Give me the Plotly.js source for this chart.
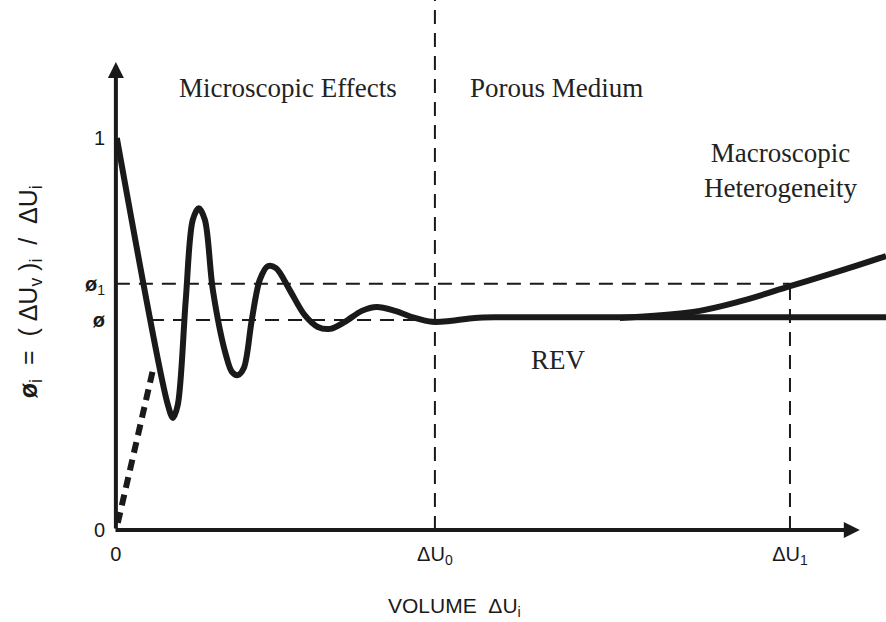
<!DOCTYPE html>
<html>
<head>
<meta charset="utf-8">
<script src="https://cdn.plot.ly/plotly-3.0.1.min.js"></script>
<style>
  html, body { margin: 0; padding: 0; background: #fff; }
  #chart { width: 886px; height: 622px; }
</style>
</head>
<body>
<div id="chart"></div>
<script>
// Volume axis: ΔU0 sits at 1, ΔU1 further right
const DU0 = 1.0;
const DU1 = 2.113;
// Porosity levels on the vertical axis
const PHI = 0.536;
const PHI1 = 0.628;

// Measured porosity vs averaging volume: damped oscillation settling on PHI
const curveX = [0.003, 0.163, 0.179, 0.194, 0.219, 0.241, 0.260, 0.279, 0.304, 0.345, 0.364, 0.382,
                0.401, 0.426, 0.451, 0.476, 0.502, 0.545, 0.592, 0.633, 0.671, 0.718, 0.771, 0.818,
                0.875, 0.937, 0.991, 1.047, 1.125, 1.204, 2.414];
const curveY = [1.000, 0.319, 0.286, 0.319, 0.587, 0.791, 0.821, 0.791, 0.612, 0.446, 0.403, 0.395,
                0.413, 0.536, 0.638, 0.673, 0.668, 0.612, 0.548, 0.518, 0.513, 0.531, 0.559, 0.569,
                0.559, 0.541, 0.531, 0.533, 0.541, 0.543, 0.543];

// Heterogeneous medium: porosity drifts upward beyond the REV range
const hetX = [1.580, 1.809, 1.956, 2.113, 2.270, 2.414];
const hetY = [0.541, 0.556, 0.583, 0.622, 0.661, 0.699];

// Extrapolated branch toward the origin
const nearX = [0.006, 0.116];
const nearY = [0.018, 0.408];

// Tick labels
const yTickVals = [0, PHI, PHI1, 1];
const yTickText = ['0', '<b>ø</b>', '<b>ø</b><sub>1</sub>', '1'];
const xTickVals = [0, DU0, DU1];
const xTickText = ['0', 'ΔU<sub>0</sub>', 'ΔU<sub>1</sub>'];

const ink = '#1a1a1a';
const thin = { color: ink, width: 2, dash: '14px,9px' };

const traces = [
  // reference dashed guides
  { x: [DU0, DU0], y: [0, 1.352], mode: 'lines', line: thin },
  { x: [DU1, DU1], y: [0, PHI1], mode: 'lines', line: thin },
  { x: [0, DU1], y: [PHI1, PHI1], mode: 'lines', line: thin },
  { x: [0.107, DU0], y: [PHI, PHI], mode: 'lines', line: thin },
  // dashed extrapolation near the origin
  { x: nearX, y: nearY, mode: 'lines', line: { color: ink, width: 6, dash: '11px,7px' } },
  // heterogeneity branch
  { x: hetX, y: hetY, mode: 'lines', line: { color: ink, width: 6, shape: 'spline', smoothing: 1 } },
  // main curve
  { x: curveX, y: curveY, mode: 'lines', line: { color: ink, width: 6, shape: 'spline', smoothing: 0.9 } }
];

const serif = { family: 'Liberation Serif, Times New Roman, serif', size: 27, color: '#222' };
const sansFamily = 'Liberation Sans, Arial, sans-serif';
const tickFont = { family: sansFamily, size: 20, color: ink };

const layout = {
  width: 886, height: 622,
  margin: { l: 106, r: 0, t: 0, b: 82 },
  paper_bgcolor: '#fff', plot_bgcolor: '#fff',
  showlegend: false,
  xaxis: {
    range: [-0.031, 2.414], showgrid: false, zeroline: false, showline: false,
    tickvals: xTickVals, ticktext: xTickText, ticks: '', tickfont: tickFont, fixedrange: true
  },
  yaxis: {
    range: [-0.0255, 1.352], showgrid: false, zeroline: false, showline: false,
    tickvals: yTickVals, ticktext: yTickText, ticks: '', tickfont: tickFont, fixedrange: true
  },
  annotations: [
    // axes drawn as arrows from the origin
    { x: 0, y: 1.194, ax: 0, ay: 0, xref: 'x', yref: 'y', axref: 'x', ayref: 'y', text: '',
      showarrow: true, arrowhead: 2, arrowsize: 0.8, arrowwidth: 4, arrowcolor: ink, standoff: 0 },
    { x: 2.332, y: 0, ax: -0.006, ay: 0, xref: 'x', yref: 'y', axref: 'x', ayref: 'y', text: '',
      showarrow: true, arrowhead: 2, arrowsize: 0.8, arrowwidth: 4, arrowcolor: ink, standoff: 0 },
    // region labels
    { x: 0.539, y: 1.128, xref: 'x', yref: 'y', text: 'Microscopic Effects', showarrow: false, font: serif },
    { x: 1.382, y: 1.128, xref: 'x', yref: 'y', text: 'Porous Medium', showarrow: false, font: serif },
    { x: 2.082, y: 0.916, xref: 'x', yref: 'y', text: 'Macroscopic<br>Heterogeneity', showarrow: false, font: serif },
    { x: 1.386, y: 0.434, xref: 'x', yref: 'y', text: 'REV', showarrow: false, font: serif },
    // axis titles, placed in paper space below and left of the plot
    { x: 0.447, y: -0.124, xref: 'paper', yref: 'paper', xanchor: 'center', yanchor: 'middle',
      text: 'VOLUME \u00A0ΔU<sub>i</sub>', showarrow: false,
      font: { family: sansFamily, size: 21, color: ink } },
    { x: -0.0974, y: 0.459, xref: 'paper', yref: 'paper', xanchor: 'center', yanchor: 'middle', textangle: -90,
      text: '<b>ø</b><sub>i</sub> \u00A0=\u00A0 ( ΔU<sub>v</sub> )<sub>i</sub> \u00A0/\u00A0 ΔU<sub>i</sub>', showarrow: false,
      font: { family: sansFamily, size: 25, color: ink } }
  ]
};

Plotly.newPlot('chart', traces, layout, { displayModeBar: false, staticPlot: true });
</script>
</body>
</html>
